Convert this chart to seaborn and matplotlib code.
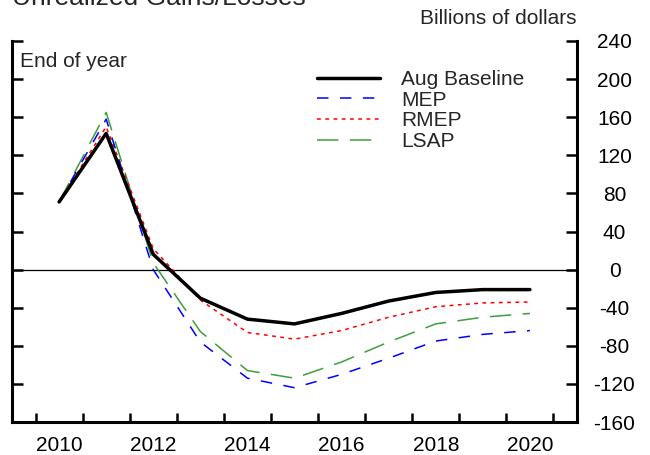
import numpy as np
import pandas as pd
import seaborn as sns
import matplotlib.pyplot as plt

# data (billions of dollars, end of year)
years = [2010, 2011, 2012, 2013, 2014, 2015, 2016, 2017, 2018, 2019, 2020]
aug_baseline = [71, 143, 16, -30, -52, -57, -46, -33, -24, -21, -21]
mep = [71, 158, 0, -76, -114, -124, -110, -93, -75, -68, -64]
rmep = [71, 150, 22, -32, -66, -73, -64, -50, -39, -35, -34]
lsap = [71, 165, 7, -65, -106, -114, -97, -76, -57, -50, -46]

series_names = ['Aug Baseline', 'MEP', 'RMEP', 'LSAP']
yticks = list(range(-160, 241, 40))
xlabels = [2010, 2012, 2014, 2016, 2018, 2020]

fontsz = 15

sns.set_theme(style="white")
plt.rcParams['font.family'] = ['Liberation Sans', 'DejaVu Sans']
plt.rcParams['axes.unicode_minus'] = False

df = pd.DataFrame({'year': years, 'Aug Baseline': aug_baseline,
                   'MEP': mep, 'RMEP': rmep, 'LSAP': lsap})
df = df.melt(id_vars='year', var_name='series', value_name='value')

fig = plt.figure(figsize=(6.5, 4.55), dpi=100)
ax = fig.add_axes([12/650, 1-422/455, (577-12)/650, (422-41)/455])

# style per series
styles = {
    'LSAP': dict(color='#3c9f3c', lw=1.1, ls=(0, (14, 7.5))),
    'RMEP': dict(color='#ff0000', lw=1.1, ls=(0, (2.5, 2.9))),
    'MEP': dict(color='#0000ff', lw=1.1, ls=(0, (7.5, 7.5))),
    'Aug Baseline': dict(color='black', lw=2.5, ls='-'),
}

ax.axhline(0, color='black', lw=0.9, zorder=1)

for name in ['LSAP', 'RMEP', 'MEP', 'Aug Baseline']:
    st = styles[name]
    sns.lineplot(data=df[df.series == name], x='year', y='value', ax=ax,
                 color=st['color'], linewidth=st['lw'], linestyle=st['ls'],
                 label=name, zorder=3)

ax.set_xlim(2009, 2021)
ax.set_ylim(-160, 240)
ax.set_xlabel('')
ax.set_ylabel('')

# spines
for s in ['left', 'right', 'bottom']:
    ax.spines[s].set_linewidth(2.2)
    ax.spines[s].set_color('black')
ax.spines['top'].set_visible(False)

# y axis: ticks both sides, labels on right
ax.set_yticks(yticks)
ax.yaxis.set_ticks_position('both')
ax.tick_params(axis='y', which='major', direction='in', length=8, width=1.8,
               left=True, right=True, labelleft=False, labelright=True,
               labelsize=fontsz, pad=27, colors='black')
for lab in ax.get_yticklabels():
    lab.set_horizontalalignment('center')

# x axis: labels every two years, ticks at year boundaries
ax.set_xticks(xlabels)
ax.set_xticklabels([str(x) for x in xlabels])
ax.set_xticks(np.arange(2009.5, 2021, 1), minor=True)
ax.tick_params(axis='x', which='major', length=0, labelsize=fontsz, pad=10,
               colors='black')
ax.tick_params(axis='x', which='minor', direction='in', length=6.5, width=1.8,
               bottom=True, top=False, colors='black')
ax.grid(False)

# legend
h, l = ax.get_legend_handles_labels()
order = [l.index(n) for n in series_names]
ax.legend([h[i] for i in order], [l[i] for i in order],
          loc='upper left', bbox_to_anchor=((317-12)/565, 1-(70-41)/381),
          frameon=False, fontsize=fontsz, handlelength=3.0,
          handletextpad=1.05, labelspacing=0.08, borderpad=0,
          borderaxespad=0)

ax.text(8/565, 1-(67-41)/381, 'End of year', transform=ax.transAxes,
        fontsize=fontsz, va='baseline', ha='left')

fig.text(577/650, 1-24/455, 'Billions of dollars', fontsize=fontsz,
         ha='right', va='baseline')
fig.text(12/650, 1-5/455, 'Unrealized Gains/Losses', fontsize=19,
         ha='left', va='baseline')

fig.savefig('out.png', dpi=100)
